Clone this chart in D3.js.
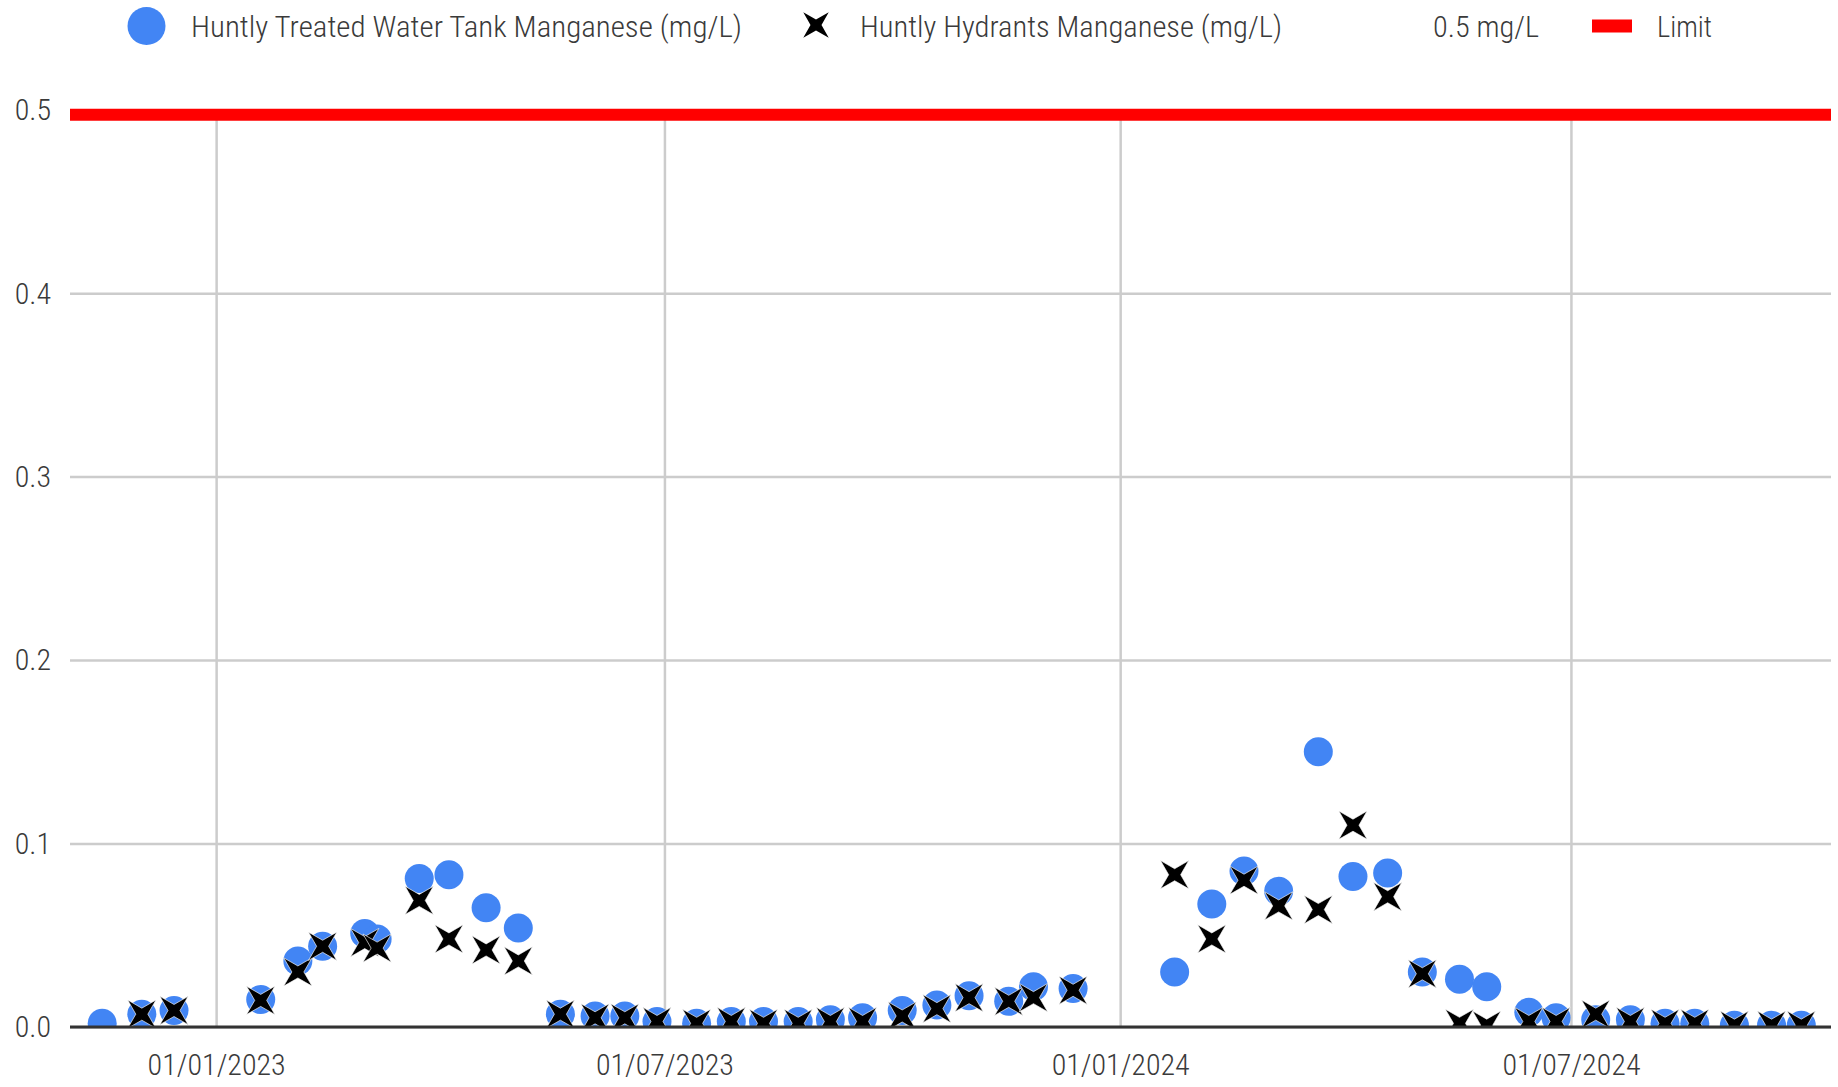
<!DOCTYPE html>
<html>
<head>
<meta charset="utf-8">
<script src="https://cdn.jsdelivr.net/npm/d3@7"></script>
<style>
  html, body { margin: 0; padding: 0; background: #fff; }
  svg { display: block; }
  text { font-family: "Liberation Sans Narrow", "Roboto Condensed", "Liberation Sans", Arial, sans-serif; font-weight: 300; }
</style>
</head>
<body>
<svg id="chart" width="1838" height="1087"></svg>
<script>
// ---------------- DATA ----------------
const sampleDates = [
  "2022-11-16","2022-12-02","2022-12-15","2023-01-19","2023-02-03","2023-02-13",
  "2023-03-02","2023-03-07","2023-03-24","2023-04-05","2023-04-20","2023-05-03",
  "2023-05-20","2023-06-03","2023-06-15","2023-06-28","2023-07-14","2023-07-28",
  "2023-08-10","2023-08-24","2023-09-06","2023-09-19","2023-10-05","2023-10-19",
  "2023-11-01","2023-11-17","2023-11-27","2023-12-13","2024-01-23","2024-02-07",
  "2024-02-20","2024-03-05","2024-03-21","2024-04-04","2024-04-18","2024-05-02",
  "2024-05-17","2024-05-28","2024-06-14","2024-06-25","2024-07-11","2024-07-25",
  "2024-08-08","2024-08-20","2024-09-05","2024-09-20","2024-10-02"
];
const tankManganese = [
  0.002, 0.007, 0.009, 0.015, 0.036, 0.044,
  0.051, 0.048, 0.081, 0.083, 0.065, 0.054,
  0.007, 0.006, 0.006, 0.003, 0.002, 0.003,
  0.003, 0.003, 0.004, 0.005, 0.009, 0.012,
  0.017, 0.014, 0.022, 0.021, 0.030, 0.067,
  0.085, 0.074, 0.150, 0.082, 0.084, 0.030,
  0.026, 0.022, 0.008, 0.005, 0.004, 0.004,
  0.002, 0.002, 0.001, 0.001, 0.001
];
const hydrantManganese = [
  null,  0.007, 0.009, 0.0145, 0.030, 0.044,
  0.046, 0.043, 0.069, 0.048, 0.042, 0.036,
  0.007, 0.005, 0.005, 0.003, 0.002, 0.003,
  0.002, 0.002, 0.003, 0.003, 0.006, 0.010,
  0.016, 0.014, 0.016, 0.020, 0.083, 0.048,
  0.080, 0.066, 0.064, 0.110, 0.071, 0.029,
  0.002, 0.001, 0.003, 0.003, 0.007, 0.003,
  0.002, 0.002, 0.001, 0.001, 0.001
];
const limitValue = 0.5;
const xDomainDates = ["2022-11-03", "2024-10-14"];
const xTickDates = ["2023-01-01", "2023-07-01", "2024-01-01", "2024-07-01"];
const xTickLabels = ["01/01/2023", "01/07/2023", "01/01/2024", "01/07/2024"];
const yTicks = [0, 0.1, 0.2, 0.3, 0.4, 0.5];
const yTickLabels = ["0.0", "0.1", "0.2", "0.3", "0.4", "0.5"];
const seriesNames = ["Huntly Treated Water Tank Manganese (mg/L)", "Huntly Hydrants Manganese (mg/L)", "0.5 mg/L", "Limit"];

// ---------------- LAYOUT ----------------
const svg = d3.select("#chart");
const plotLeft = 70, plotRight = 1831, plotTop = 109.7, plotBottom = 1027;
const parse = d3.timeParse("%Y-%m-%d");
const x = d3.scaleTime().domain(xDomainDates.map(parse)).range([plotLeft, plotRight]);
const y = d3.scaleLinear().domain([0, 0.5]).range([plotBottom, plotTop]);

const blue = "#4285f4";
const textColor = "#3a3a3a";
const fontSize = 30;

// horizontal gridlines + y labels
const yAxis = d3.axisLeft(y)
  .tickValues(yTicks)
  .tickFormat((d, i) => yTickLabels[i])
  .tickSize(-(plotRight - plotLeft))
  .tickPadding(19);
const gy = svg.append("g").attr("transform", `translate(${plotLeft},0)`).call(yAxis);
gy.select(".domain").remove();
gy.selectAll(".tick line").attr("stroke", "#cccccc").attr("stroke-width", 2.5);
gy.selectAll(".tick text").attr("fill", textColor).style("font-size", fontSize + "px").attr("dy", "0.33em");

// vertical gridlines + x labels
const xAxis = d3.axisBottom(x)
  .tickValues(xTickDates.map(parse))
  .tickFormat((d, i) => xTickLabels[i])
  .tickSize(-(plotBottom - plotTop))
  .tickPadding(27);
const gx = svg.append("g").attr("transform", `translate(0,${plotBottom})`).call(xAxis);
gx.select(".domain").remove();
gx.selectAll(".tick line").attr("stroke", "#cccccc").attr("stroke-width", 2.5);
gx.selectAll(".tick text").attr("fill", textColor).style("font-size", fontSize + "px");

// clip for points
svg.append("defs").append("clipPath").attr("id", "plotClip")
  .append("rect").attr("x", plotLeft).attr("y", 0)
  .attr("width", plotRight - plotLeft).attr("height", plotBottom);

// star (X) marker path generator
function starPath(R, r) {
  const pts = [];
  for (let i = 0; i < 8; i++) {
    const a = (45 + i * 45) * Math.PI / 180;
    const rad = i % 2 === 0 ? R : r;
    pts.push([rad * Math.cos(a), rad * Math.sin(a)]);
  }
  return "M" + pts.map(p => p[0].toFixed(2) + "," + p[1].toFixed(2)).join("L") + "Z";
}
const starD = starPath(20, 6);

const pts = svg.append("g").attr("clip-path", "url(#plotClip)");
const rows = sampleDates.map((d, i) => ({ date: parse(d), tank: tankManganese[i], hyd: hydrantManganese[i] }));

pts.selectAll("circle.tank")
  .data(rows.filter(r => r.tank !== null))
  .join("circle")
  .attr("class", "tank")
  .attr("cx", r => x(r.date))
  .attr("cy", r => y(r.tank))
  .attr("r", 14.5)
  .attr("fill", blue);

pts.selectAll("path.hyd")
  .data(rows.filter(r => r.hyd !== null))
  .join("path")
  .attr("class", "hyd")
  .attr("d", starD)
  .attr("transform", r => `translate(${x(r.date)},${y(r.hyd)})`)
  .attr("fill", "#000")
  .attr("stroke", "#fff")
  .attr("stroke-width", 0.8)
  .attr("stroke-opacity", 0.8);

// baseline
svg.append("line")
  .attr("x1", plotLeft).attr("x2", plotRight)
  .attr("y1", y(0)).attr("y2", y(0))
  .attr("stroke", "#333").attr("stroke-width", 3);

// limit line (drawn hanging just below the 0.5 gridline, as in the original)
svg.append("line")
  .attr("x1", plotLeft).attr("x2", plotRight)
  .attr("y1", y(limitValue) + 5).attr("y2", y(limitValue) + 5)
  .attr("stroke", "#ff0000").attr("stroke-width", 12);

// ---------------- LEGEND ----------------
const lg = svg.append("g");
const legendBaseline = 37;
lg.append("circle").attr("cx", 146.5).attr("cy", 26).attr("r", 19).attr("fill", blue);
lg.append("text").attr("x", 191).attr("y", legendBaseline)
  .attr("textLength", 551).attr("lengthAdjust", "spacingAndGlyphs")
  .attr("fill", textColor).style("font-size", fontSize + "px").text(seriesNames[0]);
lg.append("path").attr("d", starPath(18, 5.5)).attr("transform", "translate(816,25)").attr("fill", "#000");
lg.append("text").attr("x", 860).attr("y", legendBaseline)
  .attr("textLength", 422).attr("lengthAdjust", "spacingAndGlyphs")
  .attr("fill", textColor).style("font-size", fontSize + "px").text(seriesNames[1]);
lg.append("text").attr("x", 1433).attr("y", legendBaseline)
  .attr("textLength", 106).attr("lengthAdjust", "spacingAndGlyphs")
  .attr("fill", textColor).style("font-size", fontSize + "px").text(seriesNames[2]);
lg.append("rect").attr("x", 1592).attr("y", 19.5).attr("width", 40).attr("height", 13).attr("fill", "#ff0000");
lg.append("text").attr("x", 1657).attr("y", legendBaseline)
  .attr("textLength", 55).attr("lengthAdjust", "spacingAndGlyphs")
  .attr("fill", textColor).style("font-size", fontSize + "px").text(seriesNames[3]);
</script>
</body>
</html>
